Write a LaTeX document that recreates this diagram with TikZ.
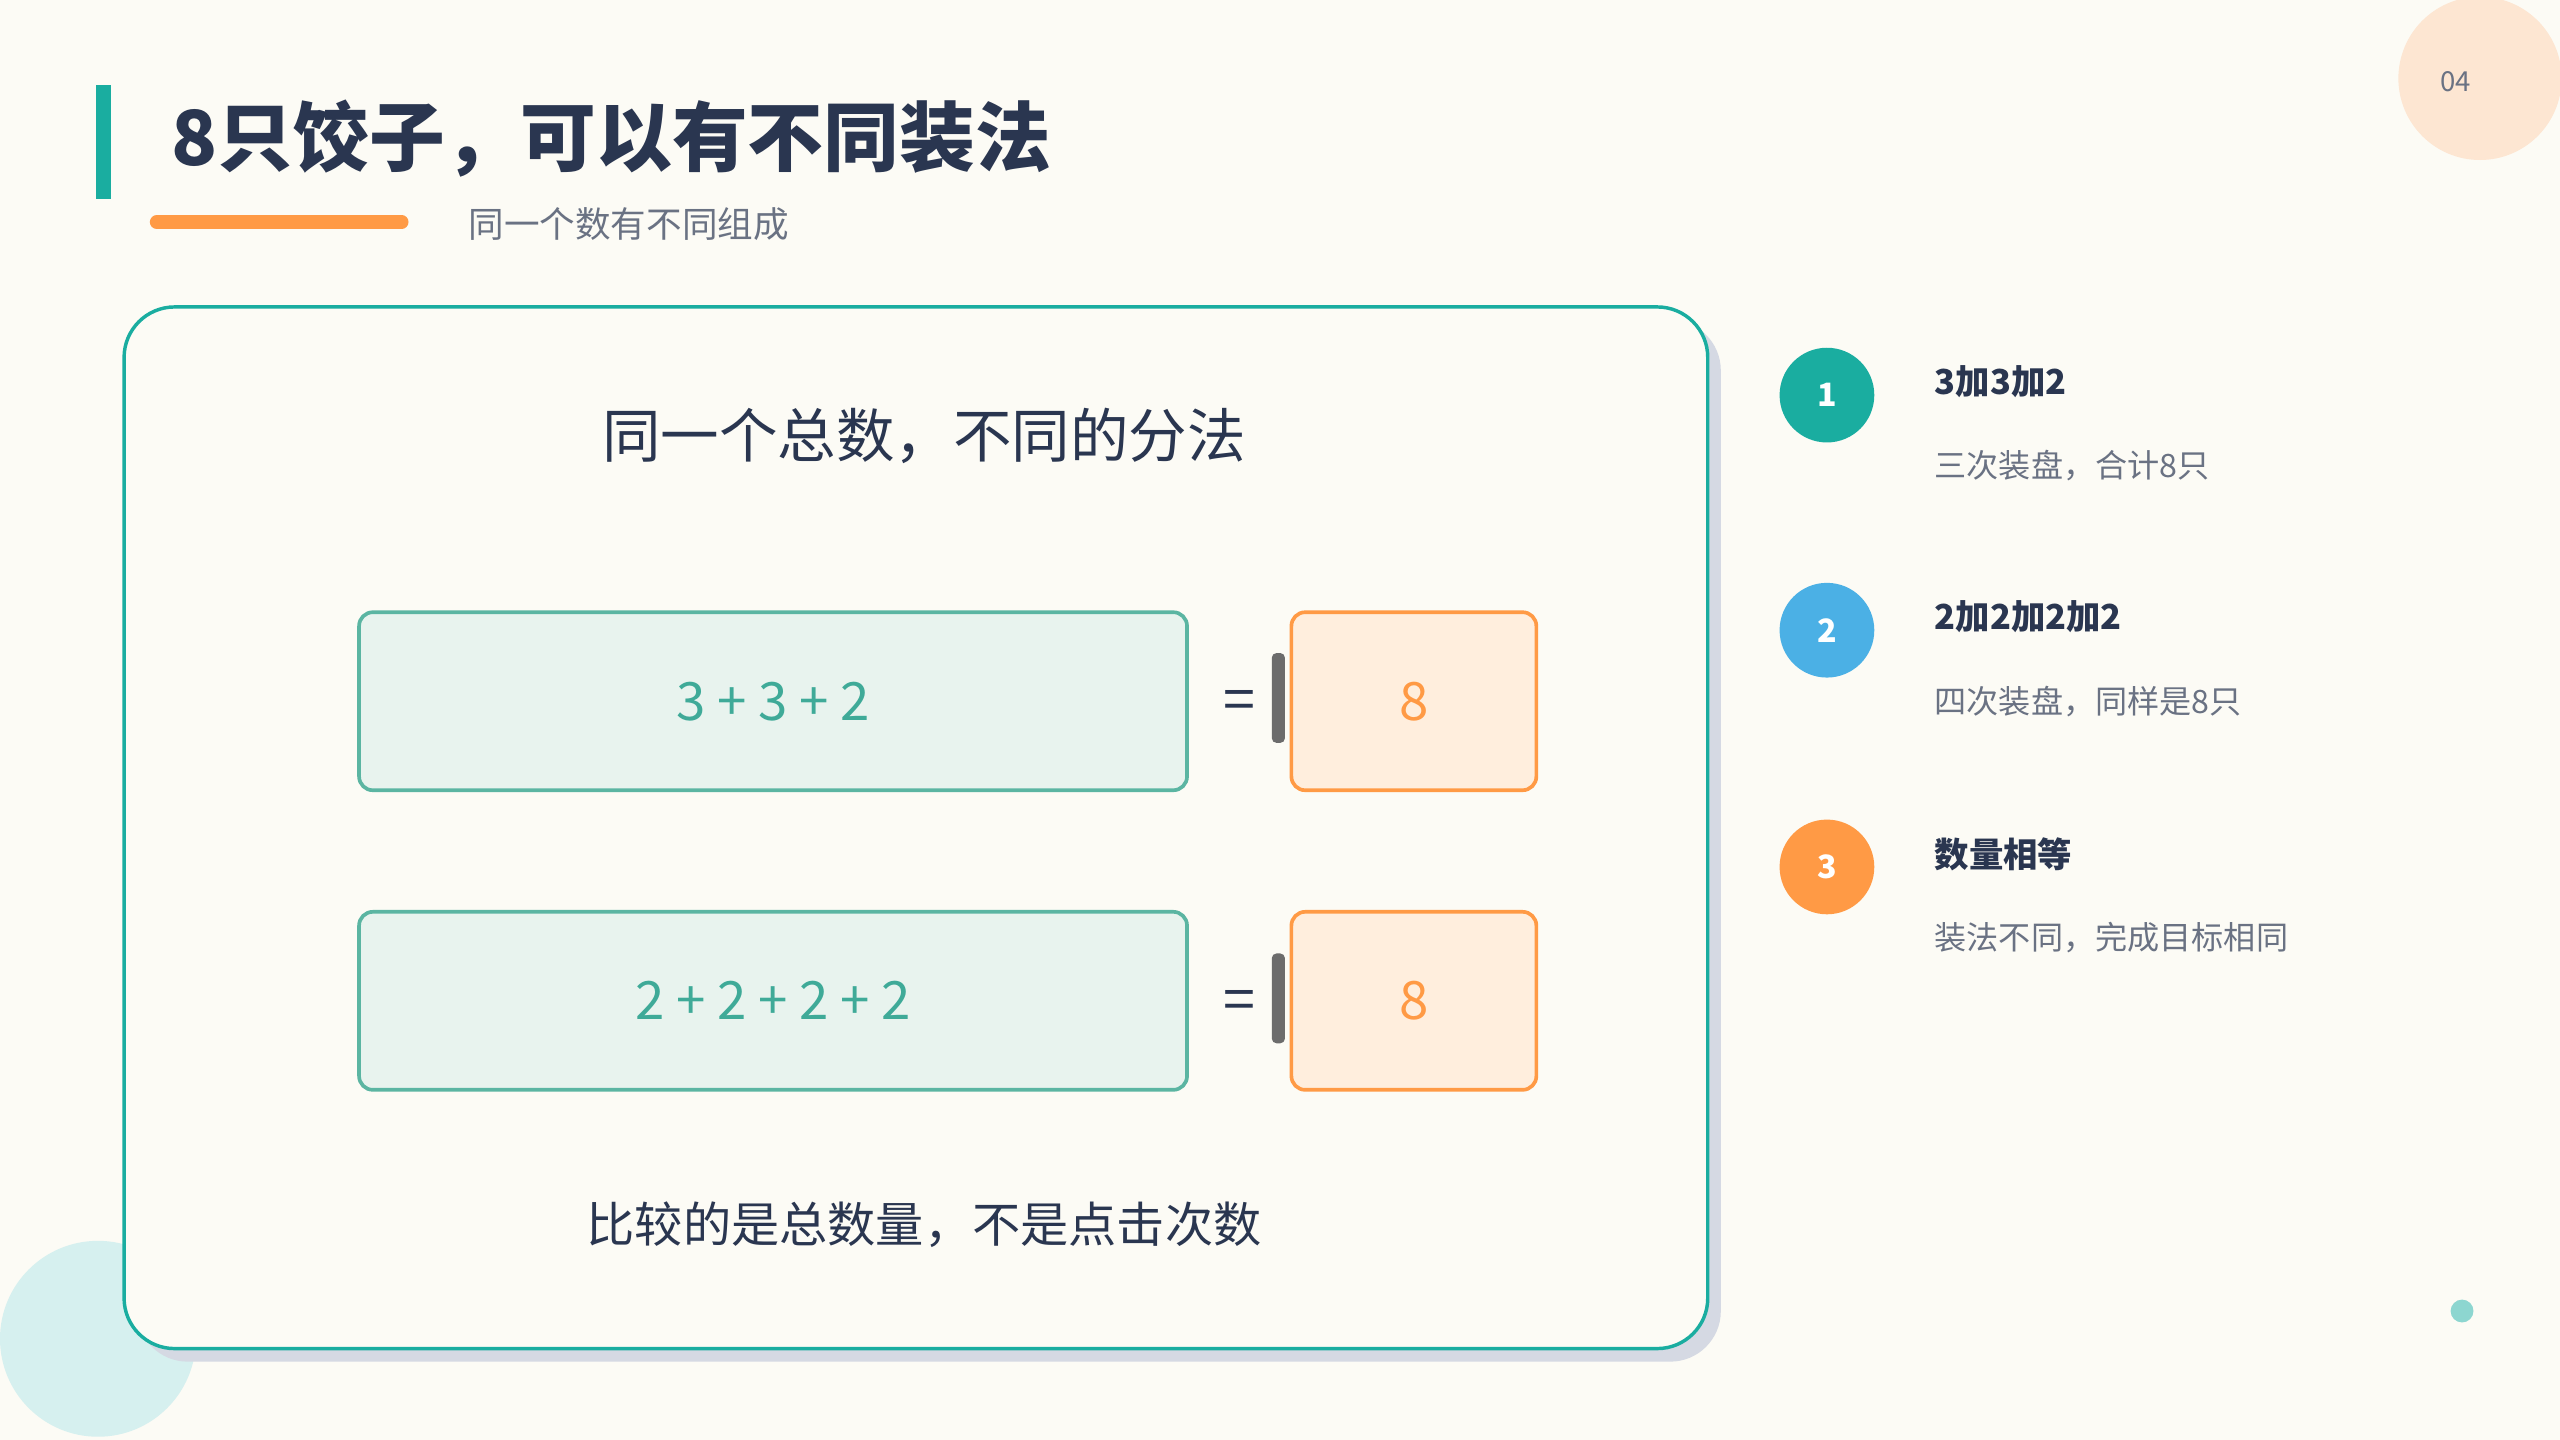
\documentclass[tikz,border=0pt]{standalone}
\usepackage{fontspec}
\setmainfont{Noto Sans CJK SC}
\usepackage{xcolor}
\definecolor{bgpaper}{HTML}{FCFBF5}
\definecolor{tealc}{HTML}{1AADA0}
\definecolor{darkc}{HTML}{2A3650}
\definecolor{grayc}{HTML}{6A7283}
\definecolor{orangec}{HTML}{FF9A45}
\definecolor{bluec}{HTML}{4BB0E5}
\definecolor{sumfill}{HTML}{E8F3EE}
\definecolor{sumline}{HTML}{5BB5A2}
\definecolor{sumtext}{HTML}{3FAA98}
\definecolor{resfill}{HTML}{FFEEDD}
\definecolor{peach}{HTML}{FDE6D2}
\definecolor{mint}{HTML}{D6F0EF}
\definecolor{shadowc}{HTML}{D5D9E3}
\tikzset{
  sumbox/.style={draw=sumline, line width=1.6pt, fill=sumfill, rounded corners=6pt, minimum width=12.675cm, minimum height=2.725cm, text=sumtext, font=\fontsize{23}{26}\selectfont},
  resbox/.style={draw=orangec, line width=1.6pt, fill=resfill, rounded corners=6pt, minimum width=3.75cm, minimum height=2.725cm, text=orangec, font=\fontsize{23}{26}\selectfont},
  stepdot/.style={circle, minimum size=1.45cm, text=white, font=\bfseries\fontsize{14}{16}\selectfont},
  steptitle/.style={anchor=west, text=darkc, font=\bfseries\fontsize{15}{18}\selectfont},
  stepnote/.style={anchor=west, text=grayc, font=\fontsize{14}{17}\selectfont}
}
\begin{document}
\begin{tikzpicture}[x=0.025cm, y=-0.025cm]
% Background
\fill[bgpaper] (0,0) rectangle (1568,882);
\useasboundingbox (0,0) rectangle (1568,882);
\fill[mint] (60,820) circle (60);
\fill[peach] (1519,48) circle (50);
\node[text=grayc, font=\fontsize{12}{14}\selectfont] (page) at (1504,50) {04};
\fill[tealc!50] (1508,803) circle (7);

% Title
\fill[tealc] (59,52) rectangle (68,122);
\node[anchor=west, text=darkc, font=\bfseries\fontsize{33}{38}\selectfont] (title) at (100,85) {8只饺子，可以有不同装法};
\draw[orangec, line width=6pt, line cap=round] (96,136) -- (246,136);
\node[anchor=west, text=grayc, font=\fontsize{15.5}{18}\selectfont] (subtitle) at (282,137) {同一个数有不同组成};

% Card
\fill[shadowc, rounded corners=22pt] (84,196) rectangle (1054,834);
\draw[tealc, line width=1.5pt, fill=bgpaper, rounded corners=22pt] (76,188) rectangle (1046,826);
\node[text=darkc, font=\fontsize{25.5}{30}\selectfont] (head) at (566,267) {同一个总数，不同的分法};

% Rows
\node[sumbox] (sum1) at (473.5,429.5) {3 + 3 + 2};
\node[resbox] (res1) at (866,429.5) {8};
\node[text=darkc, font=\fontsize{25}{28}\selectfont] (eq1) at (759,432) {=};
\fill[gray!85!black, rounded corners=2pt] (779,400) rectangle (787,455);
\node[sumbox] (sum2) at (473.5,613) {2 + 2 + 2 + 2};
\node[resbox] (res2) at (866,613) {8};
\node[text=darkc, font=\fontsize{25}{28}\selectfont] (eq2) at (759,616) {=};
\fill[gray!85!black, rounded corners=2pt] (779,584) rectangle (787,639);
\node[text=darkc, font=\fontsize{21}{25}\selectfont] (note) at (566,750) {比较的是总数量，不是点击次数};

% Steps
\node[stepdot, fill=tealc] (s1) at (1119,242) {1};
\node[steptitle] (t1) at (1180,234) {3加3加2};
\node[stepnote] (n1) at (1180,285) {三次装盘，合计8只};
\node[stepdot, fill=bluec] (s2) at (1119,386) {2};
\node[steptitle] (t2) at (1180,378) {2加2加2加2};
\node[stepnote] (n2) at (1180,430) {四次装盘，同样是8只};
\node[stepdot, fill=orangec] (s3) at (1119,531) {3};
\node[steptitle] (t3) at (1180,523) {数量相等};
\node[stepnote] (n3) at (1180,574) {装法不同，完成目标相同};
\end{tikzpicture}
\end{document}
